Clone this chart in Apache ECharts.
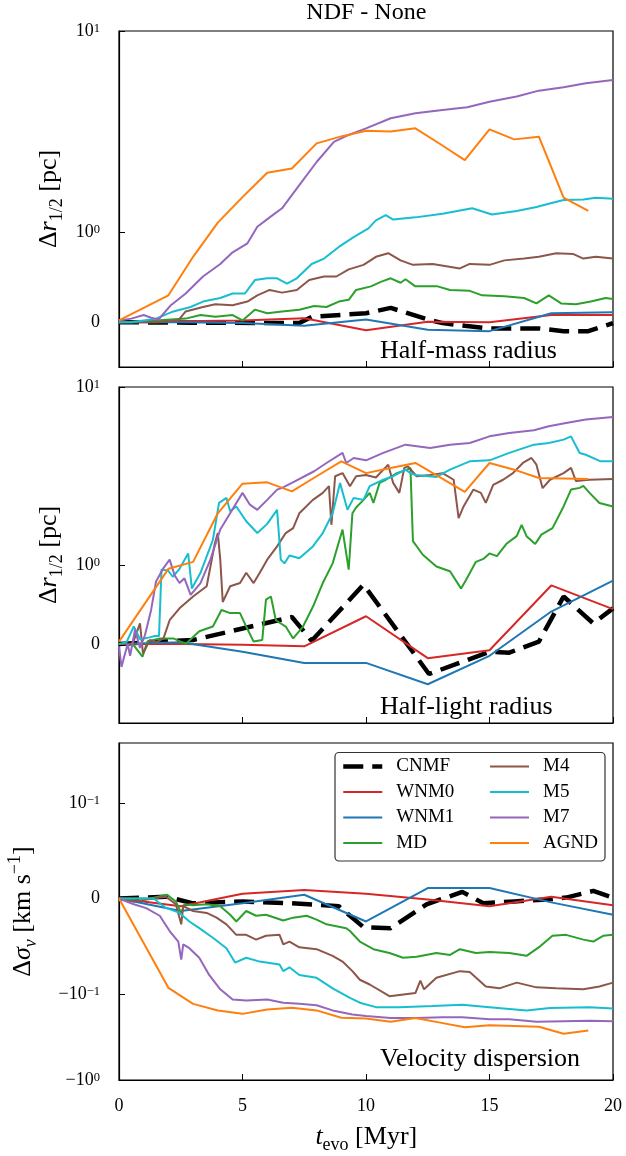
<!DOCTYPE html>
<html>
<head>
<meta charset="utf-8">
<script src="https://cdn.jsdelivr.net/npm/echarts@6/dist/echarts.min.js"></script>
<style>
  html, body { margin: 0; padding: 0; background: #fff; }
  #chart { width: 626px; height: 1156px; }
</style>
</head>
<body>
<div id="chart"></div>
<script>
// series names, in plotting order
const names = ['CNMF', 'WNM0', 'WNM1', 'MD', 'M4', 'M5', 'M7', 'AGND'];

// tick values
const xTicks = [0, 5, 10, 15, 20];
const rTicks = [0, 1, 10];
const vTicks = [-1, -0.1, 0, 0.1];

// half-mass radius, [t_evo (Myr), delta r (pc)]
const hmCNMF = [[0,0],[3,-0.005],[7.3,-0.01],[7.8,0.06],[10,0.1],[11,0.16],[12.5,0.03],[13.1,-0.01],[14,-0.04],[15,-0.07],[17,-0.07],[18,-0.1],[19,-0.1],[20,-0.01]];
const hmWNM0 = [[0,0],[2.5,0.01],[5,0.02],[7.5,0.045],[10,-0.09],[12.5,0.005],[15,0],[17.5,0.08],[20,0.08]];
const hmWNM1 = [[0,0],[2.5,0],[5,-0.01],[7.5,-0.04],[10,0.03],[12.5,-0.085],[15,-0.1],[17.5,0.1],[20,0.11]];
const hmMD = [[0,0],[1.5,0.02],[2.7,0.04],[3.3,0.08],[3.9,0.06],[4.6,0.08],[5,0.02],[5.5,0.14],[6,0.1],[6.6,0.12],[7.3,0.14],[7.9,0.18],[8.4,0.17],[8.9,0.23],[9.3,0.25],[9.6,0.36],[10.2,0.4],[10.6,0.45],[11,0.49],[11.4,0.44],[11.6,0.48],[12,0.4],[12.9,0.4],[13.4,0.36],[14.2,0.35],[14.7,0.3],[15.6,0.29],[16.4,0.27],[16.9,0.21],[17.4,0.3],[17.9,0.21],[18.5,0.2],[19.1,0.23],[19.7,0.27],[20,0.26]];
const hmM4 = [[0,0],[1.5,0],[2.4,0.02],[2.7,0.12],[3.4,0.17],[3.9,0.2],[4.6,0.19],[5.2,0.23],[5.6,0.3],[6.1,0.36],[6.6,0.33],[7.2,0.36],[7.7,0.47],[8.3,0.51],[8.8,0.51],[9.3,0.59],[9.9,0.64],[10.4,0.73],[10.9,0.77],[11.4,0.69],[11.9,0.64],[12.7,0.65],[13.8,0.6],[14.2,0.65],[15,0.64],[15.6,0.69],[16.4,0.71],[17,0.73],[17.7,0.77],[18.4,0.76],[18.8,0.71],[19.3,0.73],[20,0.71]];
const hmM5 = [[0,0],[0.5,0],[1,0.02],[1.5,0.04],[2.2,0.12],[2.9,0.17],[3.4,0.23],[4.1,0.27],[4.6,0.32],[5.1,0.32],[5.5,0.47],[6,0.49],[6.4,0.49],[6.8,0.43],[7.2,0.49],[7.8,0.65],[8.3,0.71],[8.9,0.84],[9.5,0.95],[10.1,1.05],[10.4,1.15],[10.8,1.22],[11.1,1.16],[12,1.19],[13.1,1.24],[14.3,1.32],[15.1,1.23],[16.1,1.28],[16.9,1.34],[17.4,1.39],[18,1.45],[18.8,1.46],[19.3,1.49],[20,1.47]];
const hmM7 = [[0,0.02],[0.5,0.04],[1,0.08],[1.3,0.05],[1.6,0.03],[2.1,0.19],[2.7,0.32],[3.4,0.51],[4.1,0.65],[4.6,0.78],[5.2,0.88],[5.6,1.07],[6.1,1.19],[6.6,1.32],[7.3,1.72],[8,2.24],[8.7,2.82],[9.3,3.05],[10,3.29],[11,3.69],[12,3.91],[13.1,4.06],[14.1,4.19],[15,4.46],[16.1,4.73],[17,5.06],[18,5.26],[18.9,5.51],[20,5.72]];
const hmAGND = [[0,0.02],[2,0.3],[3,0.73],[4,1.12],[5,1.5],[6,1.98],[7,2.08],[8,2.77],[9,3.0],[10,3.2],[11,3.17],[12,3.29],[13,2.75],[14,2.29],[15,3.25],[16,2.9],[17,2.99],[18,1.49],[19,1.28]];

// half-light radius, [t_evo (Myr), delta r (pc)]
const hlCNMF = [[0,0],[3,0.05],[7,0.34],[7.8,0.04],[9.9,0.75],[12.55,-0.38],[15,-0.1],[15.8,-0.11],[17,0.03],[18,0.6],[19.2,0.26],[20,0.45]];
const hlWNM0 = [[0,0],[2.5,0],[5,-0.01],[7.5,-0.03],[10,0.35],[12.5,-0.18],[15,-0.08],[17.5,0.74],[20,0.44]];
const hlWNM1 = [[0,0],[2.5,0.02],[5,-0.1],[7.5,-0.24],[10,-0.24],[12.5,-0.51],[15,-0.15],[17.5,0.41],[20,0.8]];
const hlMD = [[0,0],[0.55,0],[0.95,-0.16],[1.15,0.03],[1.65,0.07],[2.2,0.07],[2.7,0],[3.25,0.16],[3.8,0.22],[4.15,0.43],[4.5,0.39],[4.9,0.39],[5.15,0.22],[5.45,0.03],[5.8,0.05],[5.95,0.56],[6.15,0.6],[6.35,0.3],[6.75,0.22],[7.05,0.07],[7.45,0.22],[7.85,0.47],[8.25,0.77],[8.65,1.02],[9.05,1.58],[9.3,0.94],[9.45,1.95],[9.6,2.1],[9.9,2.32],[10.15,2.54],[10.3,2.23],[10.55,2.89],[10.8,3.01],[11.25,3.28],[11.65,3.43],[11.8,3.5],[11.9,1.36],[12.3,1.14],[12.85,0.98],[13.4,0.92],[13.85,0.7],[14.05,0.81],[14.45,1.04],[14.75,1.08],[15,1.16],[15.3,1.12],[15.7,1.32],[16.1,1.45],[16.3,1.68],[16.5,1.45],[16.85,1.31],[17.1,1.48],[17.55,1.61],[18,2.13],[18.3,2.65],[18.65,2.71],[18.8,2.78],[19.05,2.54],[19.45,2.23],[20,2.13]];
const hlM4 = [[0,0],[0.55,0],[0.85,0.26],[0.97,-0.12],[1.25,0.05],[1.5,0.02],[1.8,0.07],[2.05,0.3],[2.45,0.45],[3,0.6],[3.55,0.73],[3.87,1.3],[4,1.51],[4.1,1.07],[4.2,0.53],[4.5,0.73],[4.9,0.77],[5.15,0.9],[5.45,0.77],[5.7,0.9],[6,1.07],[6.4,1.27],[6.75,1.51],[7.05,1.61],[7.3,1.95],[7.85,2.32],[8.25,2.54],[8.5,2.77],[8.6,1.68],[8.75,3.15],[9.05,3.28],[9.35,2.77],[9.6,3.15],[10,3.2],[10.4,3.1],[10.9,3.66],[11.1,2.89],[11.35,2.54],[11.55,3.51],[11.7,3.58],[12.05,3.15],[12.6,3.2],[13.1,3.28],[13.55,3.01],[13.75,1.83],[13.95,2.13],[14.35,2.65],[14.65,2.54],[14.85,2.23],[15.15,2.82],[15.55,3.01],[15.95,3.28],[16.35,3.74],[16.7,3.99],[16.9,3.66],[17.15,2.7],[17.45,3.01],[18,3.28],[18.3,3.51],[18.5,2.96],[19.05,3.01],[20,3.04]];
const hlM5 = [[0,0],[0.3,0.02],[0.6,0.22],[0.85,0.06],[1.2,0.08],[1.45,0.1],[1.62,0.1],[1.72,0.94],[1.98,0.93],[2.18,0.85],[2.45,0.95],[2.8,1.16],[2.95,0.7],[3.3,0.9],[3.8,1.38],[4.05,2.23],[4.35,2.38],[4.5,2.0],[4.75,2.13],[5.15,1.76],[5.6,1.51],[6,1.7],[6.4,2.04],[6.55,1.07],[6.7,1.02],[6.9,1.13],[7.3,1.09],[7.85,1.27],[8.25,1.51],[8.65,1.95],[8.95,2.89],[9.25,2.04],[9.5,2.38],[9.9,2.32],[10.15,2.77],[10.7,3.01],[11.1,3.15],[11.6,3.43],[11.8,3.28],[12,3.2],[12.85,3.12],[13.4,3.43],[14.2,3.82],[15,3.87],[15.8,4.26],[16.8,4.74],[17.4,4.84],[18,5.06],[18.3,5.28],[18.65,4.26],[18.9,4.16],[19.5,3.82],[20,3.82]];
const hlM7 = [[0,-0.03],[0.1,-0.29],[0.35,0],[0.45,-0.15],[0.65,0.18],[0.85,-0.05],[1.05,0.11],[1.3,0.43],[1.5,0.79],[1.8,0.96],[2.05,1.07],[2.25,0.87],[2.45,0.77],[2.65,0.83],[2.9,0.62],[3.3,0.77],[3.7,1.07],[4.1,1.58],[4.5,1.95],[5,2.54],[5.3,2.18],[5.6,2.04],[6,2.32],[6.4,2.65],[6.6,2.71],[7,2.89],[7.9,3.36],[8.4,3.74],[9.05,4.26],[9.2,3.74],[9.5,3.99],[10,3.87],[10.7,4.26],[11.6,4.74],[12.6,4.54],[13.4,4.74],[14.2,4.84],[15,5.28],[15.8,5.52],[16.8,5.71],[17.4,6.01],[18.1,6.28],[18.9,6.56],[20,6.79]];
const hlAGND = [[0,0.03],[2,0.95],[3,1.04],[4,1.95],[5,2.86],[6,2.91],[7,2.59],[8,3.15],[9,3.82],[10,3.28],[11,3.5],[12,3.74],[13,3.1],[14,2.57],[15,3.74],[16,3.43],[17,3.08],[18,3.06],[19,3.04]];

// velocity dispersion, [t_evo (Myr), delta sigma_v (km/s)]
const vdCNMF = [[0,0],[1.9,0.002],[3,-0.005],[5,-0.003],[7,-0.005],[8.9,-0.008],[9.9,-0.03],[11,-0.031],[12.45,-0.006],[13.9,0.007],[14.75,-0.005],[16,-0.003],[17.3,-0.001],[18.1,0.001],[19.2,0.008],[20,0.001]];
const vdWNM0 = [[0,0],[2.5,-0.008],[5,0.005],[7.5,0.009],[10,0.005],[12.5,-0.001],[15,-0.008],[17.5,0.002],[20,-0.007]];
const vdWNM1 = [[0,0],[2.5,-0.013],[5,-0.005],[7.5,0.004],[10,-0.024],[12.5,0.011],[15,0.011],[17.5,-0.004],[20,-0.017]];
const vdMD = [[0,0],[1.25,0],[1.95,0.004],[2.3,-0.003],[2.52,-0.015],[2.65,-0.006],[3,-0.007],[3.55,-0.006],[4.1,-0.008],[4.5,-0.017],[4.75,-0.024],[5.15,-0.013],[5.55,-0.018],[5.95,-0.017],[6.65,-0.023],[7.05,-0.02],[7.6,-0.018],[8,-0.022],[8.4,-0.027],[8.8,-0.029],[9.2,-0.031],[9.35,-0.034],[9.75,-0.045],[10.3,-0.053],[10.95,-0.057],[11.5,-0.062],[12.05,-0.061],[12.85,-0.057],[13.4,-0.059],[13.8,-0.053],[14.45,-0.057],[15,-0.056],[15.8,-0.057],[16.5,-0.06],[17.05,-0.05],[17.55,-0.039],[18.1,-0.038],[18.8,-0.043],[19.2,-0.045],[19.6,-0.039],[20,-0.038]];
const vdM4 = [[0,0],[0.6,-0.003],[1.65,0.001],[1.9,0.002],[2.3,-0.006],[2.52,-0.027],[2.6,-0.008],[3,-0.013],[3.55,-0.015],[3.95,-0.02],[4.35,-0.027],[4.75,-0.038],[5.15,-0.038],[5.55,-0.043],[5.95,-0.039],[6.5,-0.038],[6.65,-0.048],[6.9,-0.045],[7.3,-0.051],[8,-0.053],[8.65,-0.06],[9.05,-0.066],[9.45,-0.076],[9.75,-0.085],[10.15,-0.09],[10.95,-0.106],[12,-0.099],[12.2,-0.086],[12.35,-0.095],[12.85,-0.083],[13.8,-0.076],[14.2,-0.077],[14.85,-0.092],[15.4,-0.094],[16.1,-0.088],[16.9,-0.093],[17.7,-0.094],[18.8,-0.095],[19.45,-0.092],[20,-0.088]];
const vdM5 = [[0,0],[0.6,0],[1.4,0],[1.9,-0.0098],[2.45,-0.015],[2.85,-0.024],[3.25,-0.031],[3.8,-0.041],[4.35,-0.052],[4.7,-0.067],[5.15,-0.062],[5.7,-0.066],[6.5,-0.069],[6.65,-0.076],[6.9,-0.072],[7.3,-0.08],[8,-0.083],[8.65,-0.094],[9.35,-0.111],[9.75,-0.126],[10.4,-0.142],[11.35,-0.142],[12.7,-0.138],[13.9,-0.133],[15,-0.142],[16.5,-0.155],[17.45,-0.145],[19.05,-0.142],[20,-0.147]];
const vdM7 = [[0,0],[0.6,-0.006],[1.1,-0.01],[1.65,-0.018],[2.05,-0.034],[2.4,-0.045],[2.52,-0.064],[2.6,-0.048],[2.85,-0.052],[3.25,-0.062],[3.65,-0.08],[4.1,-0.095],[4.6,-0.116],[5.15,-0.119],[6,-0.116],[6.65,-0.126],[7.3,-0.13],[8,-0.135],[8.65,-0.155],[9.45,-0.173],[10,-0.18],[11,-0.19],[12,-0.19],[13.1,-0.186],[13.9,-0.186],[15,-0.196],[15.8,-0.196],[16.9,-0.21],[18,-0.207],[19.05,-0.204],[20,-0.207]];
const vdAGND = [[0,0],[2,-0.0935],[3,-0.13],[4,-0.155],[5,-0.17],[6,-0.151],[7,-0.144],[8,-0.155],[9,-0.189],[10,-0.192],[11,-0.21],[12,-0.19],[13,-0.215],[14,-0.243],[15,-0.23],[16,-0.235],[17,-0.24],[18,-0.29],[19,-0.265]];

const colors = ['#000000', '#d62728', '#1f77b4', '#2ca02c', '#8c564b', '#17becf', '#9467bd', '#ff7f0e'];
const FONT = '"Liberation Serif", "DejaVu Serif", serif';

// matplotlib-like symlog: linear inside [-lt, lt], log outside
function symlog(v, lt, a) {
  const m = Math.abs(v);
  if (m <= lt) return v / lt * a;
  return Math.sign(v) * (a + Math.log10(m / lt));
}

function tickText(v) {
  if (v === 0) return '{b|0}';
  const e = Math.round(Math.log10(Math.abs(v)));
  return '{b|' + (v < 0 ? '\u2212' : '') + '10}{s|' + (e < 0 ? '\u2212' + (-e) : e) + '}';
}

const panels = [
  { top: 31, height: 336, lt: 1, a: 0.4 / 0.9, min: -0.5, max: 10, ticks: rTicks,
    data: [hmCNMF, hmWNM0, hmWNM1, hmMD, hmM4, hmM5, hmM7, hmAGND] },
  { top: 387, height: 336, lt: 1, a: 0.4 / 0.9, min: -1, max: 10, ticks: rTicks,
    data: [hlCNMF, hlWNM0, hlWNM1, hlMD, hlM4, hlM5, hlM7, hlAGND] },
  { top: 743, height: 337, lt: 0.1, a: 1 / 0.9, min: -1, max: 0.5, ticks: vTicks,
    data: [vdCNMF, vdWNM0, vdWNM1, vdMD, vdM4, vdM5, vdM7, vdAGND] }
];

const tickRich = {
  b: { fontFamily: FONT, fontSize: 18, color: '#000', verticalAlign: 'top' },
  s: { fontFamily: FONT, fontSize: 12.5, color: '#000', verticalAlign: 'top' }
};

const grids = [], xAxes = [], yAxes = [], series = [];
panels.forEach((p, i) => {
  grids.push({ left: 119, right: 13, top: p.top, height: p.height, show: true,
    borderColor: '#000', borderWidth: 1.2, backgroundColor: 'transparent' });
  xAxes.push({
    type: 'value', gridIndex: i, min: 0, max: 20, interval: 5,
    axisLine: { show: true, onZero: false, lineStyle: { color: '#000', width: 1.2 } },
    axisTick: { show: true, inside: true, length: 6, lineStyle: { color: '#000', width: 1 } },
    axisLabel: { show: i === 2, margin: 17, fontFamily: FONT, fontSize: 18, color: '#000' },
    splitLine: { show: false }
  });
  const tv = p.ticks.map(v => symlog(v, p.lt, p.a));
  const labels = {};
  tv.forEach((t, k) => { labels[t.toFixed(6)] = tickText(p.ticks[k]); });
  yAxes.push({
    type: 'value', gridIndex: i,
    min: symlog(p.min, p.lt, p.a), max: symlog(p.max, p.lt, p.a),
    axisLine: { show: true, onZero: false, lineStyle: { color: '#000', width: 1.2 } },
    axisTick: { show: true, inside: true, length: 6, customValues: tv, lineStyle: { color: '#000', width: 1 } },
    axisLabel: { customValues: tv, margin: 19, formatter: v => labels[v.toFixed(6)] || '', rich: tickRich },
    splitLine: { show: false }
  });
  p.data.forEach((d, k) => {
    const dashed = names[k] === 'CNMF';
    series.push({
      type: 'line', name: names[k], xAxisIndex: i, yAxisIndex: i,
      data: d.map(([t, v]) => [t, symlog(v, p.lt, p.a)]),
      symbol: 'none', color: colors[k], z: 2 + k * 0.01,
      lineStyle: { color: colors[k], width: dashed ? 4.5 : 2, type: dashed ? [20, 9] : 'solid' },
      emphasis: { disabled: true }, animation: false
    });
  });
});

const legendBase = {
  orient: 'vertical', itemWidth: 39, itemHeight: 14, itemGap: 6.5, padding: 0,
  selectedMode: false, top: 757,
  itemStyle: { opacity: 0, borderWidth: 0 },
  textStyle: { fontFamily: FONT, fontSize: 19, color: '#000', padding: [0, 0, 0, 9] }
};

const labRich = {
  n: { fontFamily: FONT, fontSize: 26, color: '#000', verticalAlign: 'top', padding: [4, 0, 0, 0] },
  i: { fontFamily: FONT, fontSize: 26, fontStyle: 'italic', color: '#000', verticalAlign: 'top', padding: [4, 0, 0, 0] },
  sub: { fontFamily: FONT, fontSize: 18, color: '#000', verticalAlign: 'top', padding: [16, 0, 0, 0] },
  subi: { fontFamily: FONT, fontSize: 18, fontStyle: 'italic', color: '#000', verticalAlign: 'top', padding: [16, 0, 0, 0] },
  sup: { fontFamily: FONT, fontSize: 18, color: '#000', verticalAlign: 'top' }
};

function label(x, y, text, rotation, align) {
  return { type: 'text', x: x, y: y, rotation: rotation || 0, z: 10,
    style: { text: text, rich: labRich, fontFamily: FONT, fontSize: 26, fill: '#000',
      align: align || 'center', verticalAlign: 'middle' } };
}

const chart = echarts.init(document.getElementById('chart'), null, { renderer: 'canvas' });
chart.setOption({
  backgroundColor: '#fff',
  animation: false,
  grid: grids,
  xAxis: xAxes,
  yAxis: yAxes,
  series: series,
  legend: [
    Object.assign({}, legendBase, { left: 341,
      data: [{ name: 'CNMF', lineStyle: { width: 4.5 } }, 'WNM0', 'WNM1', 'MD'] }),
    Object.assign({}, legendBase, { left: 489, data: ['M4', 'M5', 'M7', 'AGND'] })
  ],
  graphic: { elements: [
    { type: 'rect', z: 3, shape: { x: 335, y: 752.5, width: 270, height: 108.5, r: 4 },
      style: { fill: 'rgba(255,255,255,0.85)', stroke: '#333', lineWidth: 1.2 } },
    { type: 'text', x: 366.3, y: 12.5, z: 10,
      style: { text: 'NDF - None', fontFamily: FONT, fontSize: 24, fill: '#000', align: 'center', verticalAlign: 'middle' } },
    label(380, 349.5, '{n|Half-mass radius}', 0, 'left'),
    label(380, 705.5, '{n|Half-light radius}', 0, 'left'),
    label(380, 1057, '{n|Velocity dispersion}', 0, 'left'),
    label(49.5, 199, '{n|\u0394}{i|r}{sub|1/2}{n| [pc]}', Math.PI / 2),
    label(49.5, 555, '{n|\u0394}{i|r}{sub|1/2}{n| [pc]}', Math.PI / 2),
    label(23, 911.5, '{n|\u0394}{i|\u03c3}{subi|v}{n| [km s}{sup|\u22121}{n|]}', Math.PI / 2),
    label(366.3, 1137, '{i|t}{sub|evo}{n| [Myr]}', 0)
  ] }
});
</script>
</body>
</html>
